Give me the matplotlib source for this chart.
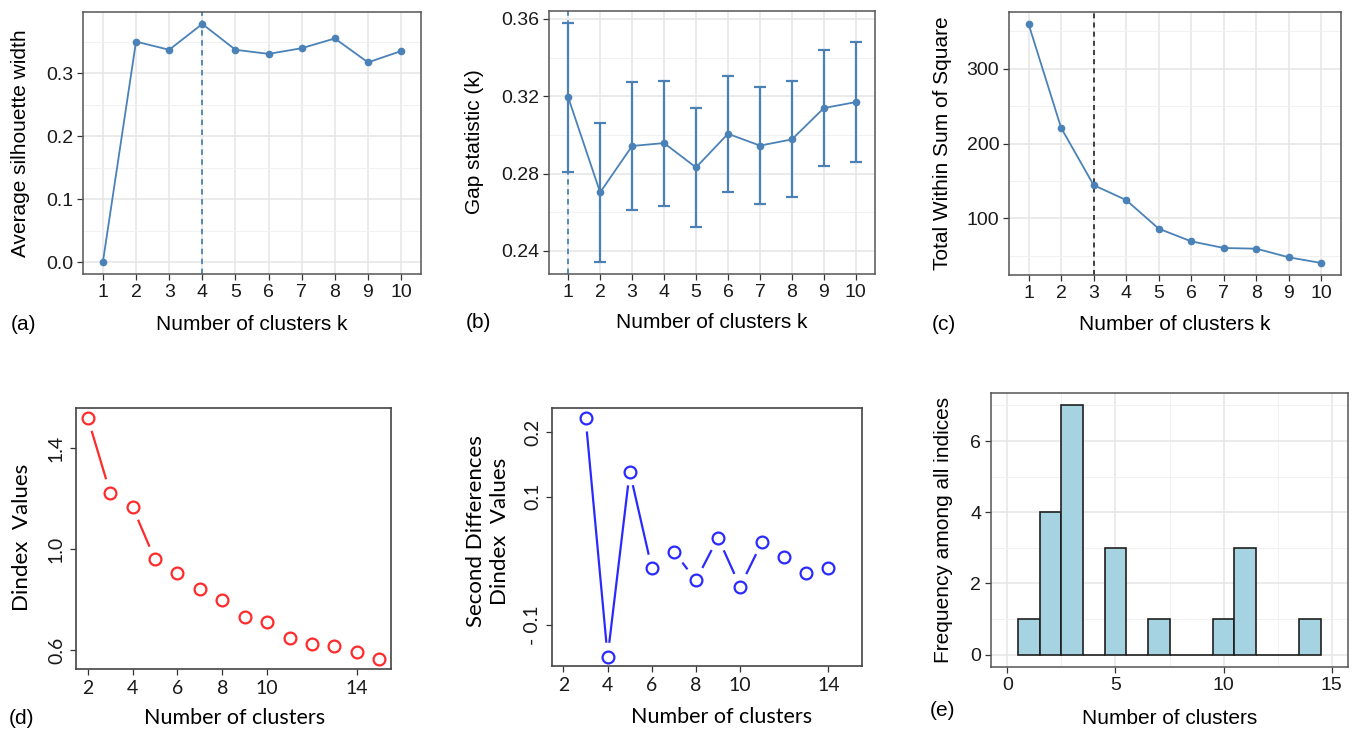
import numpy as np
import matplotlib
matplotlib.use("Agg")
import matplotlib.pyplot as plt
from matplotlib.ticker import FixedLocator

# ---- data ---------------------------------------------------------------
k = list(range(1, 11))
silhouette = [0.0, 0.350, 0.337, 0.378, 0.337, 0.3305, 0.3395, 0.355, 0.317, 0.335]
gap_stat = [0.3195, 0.2703, 0.2943, 0.2958, 0.2832, 0.3006, 0.2945, 0.2977, 0.3139, 0.3170]
gap_se = [0.0384, 0.0360, 0.0330, 0.0323, 0.0308, 0.0301, 0.0302, 0.0300, 0.0302, 0.0310]
wss = [360.1, 221.2, 144.5, 124.5, 86.2, 69.3, 60.4, 59.5, 47.9, 40.3]
best_silhouette, best_gap, best_elbow = 4, 1, 3

dindex_k = list(range(2, 16))
dindex = [1.521, 1.224, 1.167, 0.959, 0.904, 0.841, 0.799, 0.732, 0.713,
          0.649, 0.626, 0.616, 0.592, 0.563]
second_diff_k = list(range(3, 15))
second_diff = [0.223, -0.149, 0.139, -0.0115, 0.0144, -0.0302, 0.0361,
               -0.0400, 0.0299, 0.0061, -0.0188, -0.0105]
base_xticks = [2, 4, 6, 8, 10, 14]

hist_k = list(range(1, 15))
freq = [1, 4, 7, 0, 3, 0, 1, 0, 0, 1, 3, 0, 0, 1]

# ---- styling ------------------------------------------------------------
W, H = 1353, 734
fig = plt.figure(figsize=(W / 100, H / 100), dpi=100)
fig.patch.set_facecolor("white")

SANS = ["Liberation Sans", "DejaVu Sans"]
CAL = ["Lato", "DejaVu Sans"]
BLUE = "#4a82b8"
TICK_FS = 14
TITLE_FS = 15


def rect(l, r, t, b):
    return [l / W, 1 - b / H, (r - l) / W, (b - t) / H]


def ftext(x, y, s, **kw):
    fig.text(x / W, 1 - y / H, s, ha="center", va="center", **kw)


def gg_axes(ax, xlim, ylim, xticks, yticks, yminor, xminor=(), xlabels=None, ylabels=None):
    ax.set_xlim(*xlim)
    ax.set_ylim(*ylim)
    ax.set_xticks(xticks)
    ax.set_yticks(yticks)
    if xlabels is not None:
        ax.set_xticklabels(xlabels)
    if ylabels is not None:
        ax.set_yticklabels(ylabels)
    ax.xaxis.set_minor_locator(FixedLocator(list(xminor)))
    ax.yaxis.set_minor_locator(FixedLocator(list(yminor)))
    ax.grid(True, which="major", color="#e6e6e6", linewidth=1.1)
    ax.grid(True, which="minor", color="#f1f1f1", linewidth=0.7)
    ax.set_axisbelow(True)
    ax.tick_params(which="major", length=4, width=0.9, color="#333333",
                   labelsize=TICK_FS, labelcolor="#1a1a1a", pad=3)
    ax.tick_params(which="minor", length=0)
    for lab in ax.get_xticklabels() + ax.get_yticklabels():
        lab.set_family(SANS)
    for sp in ax.spines.values():
        sp.set_color("#555555")
        sp.set_linewidth(1.1)


def base_axes(ax, xlim, ylim, yticks, ylabels):
    ax.set_xlim(*xlim)
    ax.set_ylim(*ylim)
    ax.set_xticks(base_xticks)
    ax.set_yticks(yticks)
    ax.set_yticklabels(ylabels, rotation=90, va="center")
    ax.tick_params(length=4, width=0.9, color="#333333", labelsize=14,
                   labelcolor="#1a1a1a", pad=4)
    for lab in ax.get_xticklabels() + ax.get_yticklabels():
        lab.set_family(CAL)
    for sp in ax.spines.values():
        sp.set_color("#444444")
        sp.set_linewidth(1.2)


def gapped_lines(ax, x, y, gap_px, **kw):
    """Connect points like R's type='b': segments stop short of each marker."""
    trans = ax.transData
    pts = trans.transform(np.column_stack([x, y]))
    inv = trans.inverted()
    for p, q in zip(pts[:-1], pts[1:]):
        d = q - p
        L = np.hypot(*d)
        if L > 2 * gap_px:
            u = d / L
            a = inv.transform(p + u * gap_px)
            b = inv.transform(q - u * gap_px)
            ax.plot([a[0], b[0]], [a[1], b[1]], **kw)


# ---- (a) silhouette -----------------------------------------------------
ax = fig.add_axes(rect(83, 421, 12, 274))
gg_axes(ax, (0.4, 10.6), (-0.019, 0.397), k, [0.0, 0.1, 0.2, 0.3],
        [0.05, 0.15, 0.25, 0.35], ylabels=["0.0", "0.1", "0.2", "0.3"])
ax.axvline(best_silhouette, color=BLUE, linestyle=(0, (3, 2.5)), linewidth=1.3)
ax.plot(k, silhouette, color=BLUE, linewidth=1.3, marker="o", markersize=4.5)
ftext(252, 324, "Number of clusters k", fontsize=TITLE_FS, family=SANS)
ftext(21, 143, "Average silhouette width", fontsize=TITLE_FS, family=SANS, rotation=90)
ftext(23, 324, "(a)", fontsize=TITLE_FS, family=SANS)

# ---- (b) gap statistic --------------------------------------------------
ax = fig.add_axes(rect(549, 875, 11, 274))
gg_axes(ax, (0.4, 10.6), (0.2281, 0.3641), k, [0.24, 0.28, 0.32, 0.36],
        [0.26, 0.30, 0.34], ylabels=["0.24", "0.28", "0.32", "0.36"])
ax.axvline(best_gap, color=BLUE, linestyle=(0, (3, 2.5)), linewidth=1.3)
ax.errorbar(k, gap_stat, yerr=gap_se, color=BLUE, linewidth=1.3, marker="o",
            markersize=4.5, elinewidth=1.6, capsize=4, capthick=1.6)
ftext(712, 323, "Number of clusters k", fontsize=TITLE_FS, family=SANS)
ftext(474, 142, "Gap statistic (k)", fontsize=TITLE_FS, family=SANS, rotation=90)
ftext(478, 323, "(b)", fontsize=TITLE_FS, family=SANS)

# ---- (c) elbow ----------------------------------------------------------
ax = fig.add_axes(rect(1009, 1341, 12, 275))
gg_axes(ax, (0.4, 10.6), (24.3, 376.0), k, [100, 200, 300],
        [50, 150, 250, 350])
ax.axvline(best_elbow, color="#222222", linestyle=(0, (3, 2.5)), linewidth=1.2)
ax.plot(k, wss, color=BLUE, linewidth=1.3, marker="o", markersize=4.5)
ftext(1175, 324, "Number of clusters k", fontsize=TITLE_FS, family=SANS)
ftext(942, 143, "Total Within Sum of Square", fontsize=TITLE_FS, family=SANS, rotation=90)
ftext(944, 324, "(c)", fontsize=TITLE_FS, family=SANS)

# ---- (d) Dindex ---------------------------------------------------------
ax = fig.add_axes(rect(76, 391, 408, 669))
base_axes(ax, (1.48, 15.52), (0.525, 1.559), [0.6, 1.0, 1.4], ["0.6", "1.0", "1.4"])
RED = "#ff2a2a"
ax.plot(dindex_k, dindex, linestyle="none", marker="o", markersize=8.5,
        markerfacecolor="none", markeredgecolor=RED, markeredgewidth=1.6)
gapped_lines(ax, dindex_k, dindex, 15, color=RED, linewidth=1.6)
ftext(235, 718, "Number of clusters", fontsize=15.5, family=CAL)
ftext(22, 537, "Dindex  Values", fontsize=16, family=CAL, rotation=90)
ftext(21, 718, "(d)", fontsize=TITLE_FS, family=SANS)

# ---- second differences of Dindex ---------------------------------------
ax = fig.add_axes(rect(552, 862, 408, 666))
base_axes(ax, (1.48, 15.52), (-0.1637, 0.238), [-0.1, 0.1, 0.2], ["- 0.1", "0.1", "0.2"])
BLU2 = "#2a2aff"
ax.plot(second_diff_k, second_diff, linestyle="none", marker="o", markersize=8.5,
        markerfacecolor="none", markeredgecolor=BLU2, markeredgewidth=1.6)
gapped_lines(ax, second_diff_k, second_diff, 15, color=BLU2, linewidth=1.6)
ftext(722, 717, "Number of clusters", fontsize=15.5, family=CAL)
ftext(488, 531, "Second Differences\nDindex  Values", fontsize=16, family=CAL,
      rotation=90, linespacing=1.3)

# ---- (e) frequency of chosen number of clusters -------------------------
ax = fig.add_axes(rect(991, 1348, 393, 667))
gg_axes(ax, (-0.75, 15.75), (-0.35, 7.35), [0, 5, 10, 15], [0, 2, 4, 6],
        [1, 3, 5, 7], xminor=[2.5, 7.5, 12.5])
ax.bar(hist_k, freq, width=1.0, color="#a6d3e2", edgecolor="#1f1f1f",
       linewidth=1.2)
ftext(1170, 718, "Number of clusters", fontsize=TITLE_FS, family=SANS)
ftext(943, 530, "Frequency among all indices", fontsize=TITLE_FS, family=SANS, rotation=90)
ftext(942, 710, "(e)", fontsize=TITLE_FS, family=SANS)

fig.savefig("out.png", dpi=100, facecolor="white")
